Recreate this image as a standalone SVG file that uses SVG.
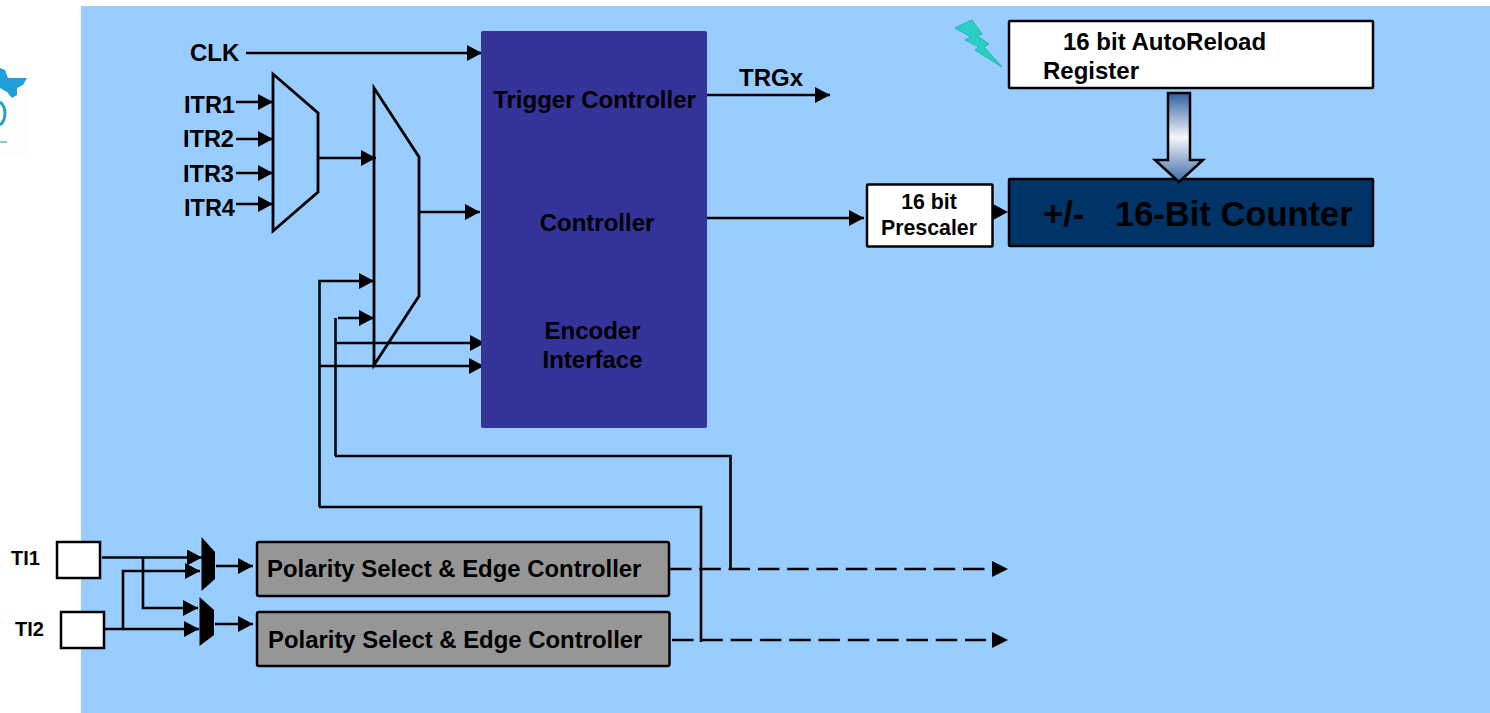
<svg xmlns="http://www.w3.org/2000/svg" width="1490" height="713" viewBox="0 0 1490 713">
<style>
text{font-family:"Liberation Sans",Arial,sans-serif;font-weight:bold;fill:#000}
.c{fill:none;stroke:#000;stroke-width:2.6}
.a{marker-end:url(#ah)}
.s{fill:none;stroke:#000;stroke-width:2.8;stroke-linejoin:miter}
.d{stroke-dasharray:21.500 7.800}
.f{stroke:#000;stroke-width:2.500}
.t24{font-size:24px}
.t23{font-size:23.500px}
.p{font-size:23.900px}
</style>
<defs>
<marker id="ah" markerUnits="userSpaceOnUse" markerWidth="16" markerHeight="16" refX="15" refY="8" orient="auto"><path d="M0 0L15 8L0 16Z" fill="#000"/></marker>
<linearGradient id="g" x1="0" y1="0" x2="0" y2="1"><stop offset="0" stop-color="#2f5f9e"/><stop offset="0.5" stop-color="#f5f7fb"/><stop offset="1" stop-color="#3c6aa6"/></linearGradient>
</defs>
<rect width="1490" height="713" fill="#fff"/>
<rect id="background" x="81" y="6" width="1409" height="707" fill="#99ccff"/>
<g id="logo">
<rect x="0" y="65" width="29" height="90" fill="#fdfdfd"/>
<path d="M0 68L5 70L8 78L27 78L23 85L17 88L17 95L12 98L7 92L0 88Z" fill="#1f9fdc"/>
<path d="M0 102Q5 106 5 113Q5 121 0 125" fill="none" stroke="#2a9fc4" stroke-width="3"/>
<rect x="0" y="141" width="7" height="2" fill="#8cc6dd"/>
</g>
<g id="connectors">
<path class="c a" d="M246 53H482"/>
<path class="c a" d="M236 102H273"/>
<path class="c a" d="M236 139H273"/>
<path class="c a" d="M236 173H273"/>
<path class="c a" d="M236 204H273"/>
<path class="c a" d="M318 158H376"/>
<path class="c a" d="M420 212H480"/>
<path class="c a" d="M319.500 507V281H374"/>
<path class="c a" d="M338 318H374"/>
<path class="c" d="M335.500 456V318"/>
<path class="c a" d="M335 343H485"/>
<path class="c a" d="M319 366H484"/>
<path class="c" d="M335 456H730.500V570"/>
<path class="c" d="M319 507H701V642"/>
<path class="c a" d="M704 95H830"/>
<path class="c a" d="M707 218H864"/>
<path class="c d" d="M670 569H985"/>
<path class="c d" d="M672 640H986"/>
<path d="M992 561L1008 569L992 577Z" fill="#000"/>
<path d="M992 632L1008 640L992 648Z" fill="#000"/>
<path d="M993 204L1008 212L993 220Z" fill="#000"/>
<path class="c a" d="M102 557.500H202"/>
<path class="c a" d="M123 629V571H200"/>
<path class="c a" d="M143 558V608H198"/>
<path class="c a" d="M105 629H199"/>
<path class="c a" d="M216 566H253"/>
<path class="c a" d="M215 624H253"/>
</g>
<g id="trigger-block">
<rect x="481" y="31" width="226" height="397" rx="2" fill="#333399"/>
<text class="t24" x="594.500" y="108" text-anchor="middle">Trigger Controller</text>
<text class="t24" x="597" y="231" text-anchor="middle">Controller</text>
<text class="t24" x="592.500" y="339" text-anchor="middle">Encoder</text>
<text class="t24" x="592.500" y="368" text-anchor="middle">Interface</text>
</g>
<g id="mux-itr"><path class="s" d="M273 74L318 113V192L273 231Z"/></g>
<g id="mux-main"><path class="s" d="M374 88L419 157V296L374 365Z"/></g>
<g id="labels">
<text class="t24" x="190" y="61">CLK</text>
<text class="t23" x="184" y="113">ITR1</text>
<text class="t23" x="183" y="147">ITR2</text>
<text class="t23" x="183" y="182">ITR3</text>
<text class="t23" x="184" y="216">ITR4</text>
<text class="t24" x="739" y="86">TRGx</text>
<text x="11" y="565" font-size="20px">TI1</text>
<text x="15" y="636" font-size="20px">TI2</text>
</g>
<g id="ti1"><rect class="f" x="57" y="542" width="43" height="36" fill="#fff"/></g>
<g id="ti2"><rect class="f" x="61" y="612" width="43" height="36" fill="#fff"/></g>
<g id="sel1"><path d="M201.500 537L215 552V579L201.500 591Z" fill="#000"/></g>
<g id="sel2"><path d="M199.500 597L214 610V635L199.500 646Z" fill="#000"/></g>
<g id="polarity1">
<rect class="f" x="257" y="542" width="412" height="54" rx="2" fill="#969696"/>
<text class="p" x="267" y="577">Polarity Select &amp; Edge Controller</text>
</g>
<g id="polarity2">
<rect class="f" x="257" y="612" width="412.500" height="54" rx="2" fill="#969696"/>
<text class="p" x="268" y="648">Polarity Select &amp; Edge Controller</text>
</g>
<g id="prescaler">
<rect class="f" x="867" y="184.500" width="125.500" height="62" rx="1" fill="#fff"/>
<text x="929" y="209" text-anchor="middle" font-size="21.300px">16 bit</text>
<text x="929" y="235" text-anchor="middle" font-size="21.300px">Prescaler</text>
</g>
<g id="reload">
<rect class="f" x="1009" y="21" width="364" height="67" rx="1" fill="#fff"/>
<text class="t24" x="1063" y="50">16 bit AutoReload</text>
<text class="t24" x="1043" y="79">Register</text>
</g>
<g id="lightning"><path d="M955 28L972 20L982 34L977 36L989 44L984 47L1002 67L975 50L979 47L965 40L971 37Z" fill="#2ccfc6" stroke="#1fb5ad" stroke-width="1"/></g>
<g id="counter">
<rect class="f" x="1009" y="179" width="364" height="67" rx="1" fill="#003366"/>
<text font-size="34.500px" y="226"><tspan x="1043">+/-</tspan><tspan x="1115">16-Bit Counter</tspan></text>
</g>
<g id="bus-arrow"><path d="M1168 93H1190V160H1203L1179 182L1155 160H1168Z" fill="url(#g)" stroke="#000" stroke-width="2.500"/></g>
</svg>
